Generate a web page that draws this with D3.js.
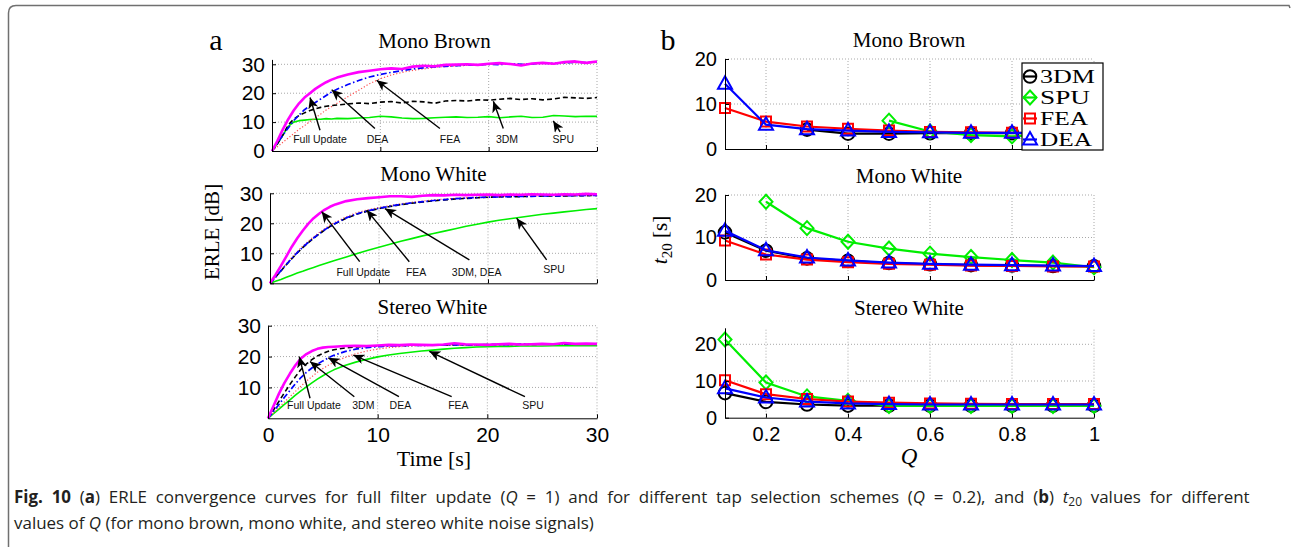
<!DOCTYPE html>
<html><head><meta charset="utf-8">
<script src="https://cdn.jsdelivr.net/npm/d3@7"></script>
<style>body{margin:0;background:#fff}svg{display:block}</style>
</head><body><svg id="c" width="1292" height="547"></svg>
<script>
// ---------- data: (a) ERLE curves ----------
const timeS = [0,0.5,1,1.5,2,2.5,3,3.5,4,4.5,5,5.5,6,7,8,9,10,11,12,13,14,15,16,17,18,19,20,21,22,23,24,25,26,27,28,29,30];
const mbFull = [0,3.5,7.5,11,14,16.5,18.5,20,21.5,22.7,23.8,24.7,25.4,26.5,27.3,27.8,28.3,28.6,28.4,29.2,29.5,29.3,29.8,29.9,30,29.8,30.2,30.4,30.1,29.6,30.3,30.5,30.2,30.8,31,30.5,31];
const mbDEA = [0,2.7,5.5,8,10.5,12.5,14.3,15.6,16.8,18,19.2,20.4,21.4,23,24.4,25.6,26.5,27.2,27.8,28.4,28.8,29.1,29.3,29.5,29.8,29.7,30,29.9,30.2,30,30.1,30.4,30.3,30.5,30.7,30.6,30.8];
const mbFEA = [0,1.5,3,4.5,6,7.5,8.8,10.2,11.5,12.8,14.2,15.4,16.5,18.8,21,23.3,25,26.3,27.2,27.9,28.4,28.9,29.2,29.4,29.6,29.8,29.9,30,30.1,30.1,30.2,30.3,30.3,30.4,30.5,30.5,30.6];
const mb3DM = [0,2.5,5.5,9,11,12.3,13.2,14,14.6,15.1,15.5,15.7,15.9,16.3,16.6,16.4,16.9,17.1,16.6,17.2,17,16.5,17.3,17.5,17.3,17.7,17.6,17.9,18.2,17.8,18.1,17.7,18,18.6,18.4,18.2,18.5];
const mbSPU = [0,2.5,5.5,8.5,10,10.5,10.7,10.9,11,11,11.2,11.1,11.3,11.2,11.4,11.6,12,11.8,11.4,11.2,11.3,11.5,11.7,11.8,11.6,11.7,11.9,11.5,11.8,12,11.6,11.7,12.3,12.1,11.9,12,12];

const mwFull = [0,2.8,5.8,9,12.2,15,17.5,19.8,21.7,23.2,24.5,25.5,26.3,27.4,28,28.4,28.7,29,29,28.8,29.2,29.4,29.3,29.5,29.4,29.5,29.6,29.4,29.6,29.5,29.7,29.6,29.5,29.7,29.6,29.8,29.7];
const mwDEA = [0,2,4.2,6.3,8.3,10.2,12,13.6,15.1,16.5,17.8,19,20,21.8,23.2,24.2,25,25.7,26.3,26.8,27.2,27.6,27.9,28.2,28.4,28.6,28.7,28.8,28.9,29,29,29.1,29.1,29.2,29.2,29.3,29.3];
const mwFEA = [0,2.1,4.3,6.5,8.6,10.6,12.4,14,15.5,16.9,18.2,19.4,20.4,22.2,23.6,24.5,25.3,25.9,26.5,27,27.4,27.8,28.1,28.3,28.5,28.7,28.8,28.9,29,29,29.1,29.1,29.2,29.2,29.3,29.3,29.4];
const mw3DM = [0,2,4.1,6.2,8.2,10.1,11.9,13.5,15,16.4,17.7,18.9,19.9,21.7,23.1,24.1,24.9,25.6,26.2,26.7,27.1,27.5,27.8,28.1,28.3,28.5,28.7,28.8,28.9,28.9,29,29.1,29.1,29.1,29.2,29.2,29.3];
const mwSPU = [0,0.65,1.3,2,2.7,3.4,4,4.7,5.3,5.9,6.5,7.1,7.7,8.8,9.9,11,12,13,14,14.9,15.8,16.6,17.4,18.2,19,19.7,20.4,21,21.5,22,22.5,23,23.4,23.8,24.2,24.6,24.9];

const swFull = [0,4,8,11.5,14.5,17.2,19.4,20.8,21.8,22.5,22.9,23.1,23.2,23.4,23.5,23.4,23.6,23.8,23.7,23.9,23.8,23.7,23.9,24.3,24,23.9,23.8,24,24.1,23.9,24,24.1,24,24.4,24.1,24.2,24.1];
const swDEA = [0,2.2,4.5,6.8,9,11.2,13.2,14.9,16.3,17.5,18.6,19.6,20.4,21.6,22.4,22.9,23.2,23.4,23.5,23.6,23.6,23.7,23.7,23.8,23.8,23.8,23.9,23.9,23.9,24,24,24,24,24.1,24,24.1,24];
const swFEA = [0,1.7,3.5,5.3,7,8.7,10.4,12,13.5,14.9,16.1,17.2,18.1,19.7,20.9,21.8,22.4,22.9,23.2,23.4,23.5,23.6,23.6,23.7,23.7,23.8,23.8,23.8,23.9,23.9,23.9,24,23.9,24,24,24,24];
const sw3DM = [0,2.7,5.5,8.3,11,13.5,15.8,17.6,19,20.2,21,21.7,22.2,22.8,23.1,23.3,23.4,23.6,23.6,23.7,23.7,23.8,23.7,23.9,23.8,23.8,23.9,23.9,23.9,24,23.9,24,24,24.1,24,24,24];
const swSPU = [0,1.5,3,4.5,6,7.5,8.9,10.2,11.5,12.7,13.8,14.8,15.7,17.1,18.2,19.1,19.9,20.5,21,21.4,21.8,22.1,22.4,22.7,22.9,23.1,23.2,23.3,23.3,23.4,23.4,23.4,23.5,23.5,23.5,23.5,23.5];

// ---------- data: (b) t20 values ----------
const qValues = [0.1,0.2,0.3,0.4,0.5,0.6,0.7,0.8,0.9,1.0];
const mbT3DM = [null,null,4.3,3.4,3.4,3.5,3.5,3.5,3.5,3.5];
const mbTSPU = [null,null,null,null,6.3,3.9,3.1,2.8,3.2,3.5];
const mbTFEA = [9.1,6.1,5.0,4.5,4.1,3.8,3.7,3.6,3.5,3.5];
const mbTDEA = [14.5,5.4,4.4,4.1,3.8,3.7,3.6,3.6,3.5,3.5];
const mwT3DM = [11.2,6.9,5.1,4.5,4.0,3.7,3.5,3.4,3.3,3.2];
const mwTSPU = [null,18.4,12.2,9.0,7.4,6.2,5.4,4.7,4.1,3.0];
const mwTFEA = [9.3,6.0,4.8,4.2,3.8,3.6,3.4,3.3,3.2,3.2];
const mwTDEA = [11.6,7.0,5.3,4.6,4.1,3.8,3.6,3.5,3.4,3.3];
const swT3DM = [6.7,4.3,3.6,3.3,3.3,3.3,3.3,3.3,3.3,3.3];
const swTSPU = [21.3,9.6,5.8,4.6,3.2,3.2,3.2,3.2,3.2,3.2];
const swTFEA = [10.2,6.4,5.1,4.4,4.1,3.9,3.8,3.7,3.7,3.7];
const swTDEA = [8.0,5.5,4.4,3.9,3.7,3.6,3.6,3.6,3.6,3.6];

// ---------- labels ----------
const panelTitles = ["Mono Brown","Mono White","Stereo White"];
const schemeNames = ["3DM","SPU","FEA","DEA"];
const timeTicks = [0,10,20,30];
const qTicks = [0.2,0.4,0.6,0.8,1];
// annotations: [label, labelT, labelY, fromT, fromY, tipT, tipY]
const annMB = [["Full Update",4.43,2.9,4.43,7.2,3.51,18.5],["DEA",9.74,2.9,9.5,7.8,5.51,21.2],["FEA",16.43,2.9,15.5,7.8,9.66,24.5],["3DM",21.69,2.9,21.35,7.8,20.43,17.2],["SPU",26.89,2.9,26.6,6.6,25.96,10.4]];
const annMW = [["Full Update",8.56,2.4,8.23,7.2,4.74,23.9],["FEA",13.41,2.4,12.78,7.2,8.87,24.4],["3DM, DEA",18.96,2.4,18.29,7.8,10.55,24.9],["SPU",26.07,3.3,25.38,7.8,22.63,21.7]];
const annSW = [["Full Update",4.19,2.9,3.83,6.5,2.85,20.0],["3DM",8.69,2.9,7.87,7.0,3.83,18.4],["DEA",12.07,2.9,11.94,7.0,5.5,19.6],["FEA",17.36,2.9,16.75,7.0,7.78,20.5],["SPU",24.16,2.9,23.43,7.0,14.71,21.7]];

const SERIF = "'Liberation Serif','Times New Roman',serif";
const SANS = "'Liberation Sans',Arial,sans-serif";
const svg = d3.select("#c");

svg.append("path").attr("d","M8.5,547 L8.5,13 Q8.5,5.5 16,5.5 L1289,5.5 L1290,8")
  .attr("fill","none").attr("stroke","#707070").attr("stroke-width",1.5);

const defs = svg.append("defs");
defs.append("marker").attr("id","ah").attr("markerUnits","userSpaceOnUse")
  .attr("markerWidth",14).attr("markerHeight",12).attr("refX",11).attr("refY",5).attr("orient","auto")
  .append("path").attr("d","M0,0 L11,5 L0,10 L3,5 Z").attr("fill","#000");

function styleAxis(s, fs){
  s.select(".domain").attr("stroke","#000").attr("stroke-width",1);
  s.selectAll(".tick line").attr("stroke","#000");
  s.selectAll(".tick text").attr("font-family",SANS).attr("font-size",fs).attr("fill","#000");
}
function grid(g, x, y, xt, yt){
  const yTop = y.range()[1], yBot = y.range()[0], xl = x.range()[0], xr = x.range()[1];
  g.append("g").selectAll("line").data(xt).join("line")
    .attr("x1",d=>x(d)).attr("x2",d=>x(d)).attr("y1",yBot).attr("y2",yTop)
    .attr("stroke","#a8a8a8").attr("stroke-dasharray","1,2");
  g.append("g").selectAll("line").data(yt).join("line")
    .attr("x1",xl).attr("x2",xr).attr("y1",d=>y(d)).attr("y2",d=>y(d))
    .attr("stroke","#a8a8a8").attr("stroke-dasharray","1,2");
}

// ---------- (a) panels ----------
const leftCfg = [
  {title:panelTitles[0], xl:272, xr:597, yb:151, yt:59.4, ymax:31.7, yticks:[0,10,20,30], xlab:false, tb:47.5,
   series:{SPU:mbSPU,FEA:mbFEA,DM:mb3DM,DEA:mbDEA,Full:mbFull}, ann:annMB},
  {title:panelTitles[1], xl:270, xr:597, yb:283.3, yt:193.3, ymax:30, yticks:[0,10,20,30], xlab:false, tb:181,
   series:{SPU:mwSPU,FEA:mwFEA,DM:mw3DM,DEA:mwDEA,Full:mwFull}, ann:annMW},
  {title:panelTitles[2], xl:268, xr:597, yb:418.3, yt:325.7, ymax:30, yticks:[10,20,30], xlab:true, tb:314,
   series:{SPU:swSPU,FEA:swFEA,DM:sw3DM,DEA:swDEA,Full:swFull}, ann:annSW}
];
const styleA = {
  SPU:{c:"#00ee00",w:1.6,d:null},
  FEA:{c:"#ff5050",w:1.2,d:"1.2,2"},
  DM:{c:"#000",w:1.6,d:"5,3"},
  DEA:{c:"#0000ff",w:1.7,d:"6,2.5,1.5,2.5"},
  Full:{c:"#ff00ff",w:2.6,d:null}
};
leftCfg.forEach(cfg=>{
  const x = d3.scaleLinear().domain([0,30]).range([cfg.xl,cfg.xr]);
  const y = d3.scaleLinear().domain([0,cfg.ymax]).range([cfg.yb,cfg.yt]);
  const g = svg.append("g");
  grid(g, x, y, timeTicks.slice(1), cfg.yticks.filter(v=>v>0));
  const line = d3.line().x((d,i)=>x(timeS[i])).y(d=>y(d));
  Object.keys(cfg.series).forEach(k=>{
    const st = styleA[k];
    g.append("path").attr("d",line(cfg.series[k])).attr("fill","none")
      .attr("stroke",st.c).attr("stroke-width",st.w).attr("stroke-linejoin","round")
      .attr("stroke-dasharray",st.d);
  });
  g.append("g").attr("transform",`translate(0,${cfg.yb})`)
    .call(d3.axisBottom(x).tickValues(timeTicks).tickSize(-4).tickSizeOuter(0).tickPadding(9)
      .tickFormat(cfg.xlab? d3.format("d") : ""))
    .call(s=>styleAxis(s,21));
  g.append("g").attr("transform",`translate(${cfg.xl},0)`)
    .call(d3.axisLeft(y).tickValues(cfg.yticks).tickSize(-4).tickSizeOuter(0).tickPadding(7).tickFormat(d3.format("d")))
    .call(s=>styleAxis(s,21));
  g.append("text").attr("x",(cfg.xl+cfg.xr)/2).attr("y",cfg.tb).attr("text-anchor","middle")
    .attr("font-family",SERIF).attr("font-size",21).text(cfg.title);
  cfg.ann.forEach(a=>{
    g.append("line").attr("x1",x(a[3])).attr("y1",y(a[4])).attr("x2",x(a[5])).attr("y2",y(a[6]))
      .attr("stroke","#000").attr("stroke-width",1.4).attr("marker-end","url(#ah)");
    g.append("text").attr("x",x(a[1])).attr("y",y(a[2])).attr("text-anchor","middle")
      .attr("font-family",SANS).attr("font-size",10.5).attr("fill","#111").text(a[0]);
  });
});
svg.append("text").attr("transform","translate(219,232) rotate(-90)").attr("text-anchor","middle")
  .attr("font-family",SERIF).attr("font-size",21).text("ERLE [dB]");
svg.append("text").attr("x",434).attr("y",466).attr("text-anchor","middle")
  .attr("font-family",SERIF).attr("font-size",22).text("Time [s]");
svg.append("text").attr("x",216).attr("y",50).attr("text-anchor","middle")
  .attr("font-family",SERIF).attr("font-size",30).text("a");

// ---------- (b) panels ----------
const rightCfg = [
  {title:panelTitles[0], yb:149, yt:59, ymax:20, xlab:false, tb:47, data:[mbT3DM,mbTSPU,mbTFEA,mbTDEA], legend:true},
  {title:panelTitles[1], yb:280, yt:195, ymax:20, xlab:false, tb:183, data:[mwT3DM,mwTSPU,mwTFEA,mwTDEA], legend:false},
  {title:panelTitles[2], yb:417.7, yt:327.8, ymax:24.5, xlab:true, tb:315, data:[swT3DM,swTSPU,swTFEA,swTDEA], legend:false}
];
const colB = ["#000000","#00ee00","#ff0000","#0000ff"];
const markerShape = ["circle","diamond","square","triangle"];
function drawMarker(g, shape, cx, cy, color){
  let p;
  if(shape==="circle"){
    return g.append("circle").attr("cx",cx).attr("cy",cy).attr("r",6.3).attr("fill","none").attr("stroke",color).attr("stroke-width",2);
  } else if(shape==="diamond"){
    p = `M${cx},${cy-7} L${cx+6.5},${cy} L${cx},${cy+7} L${cx-6.5},${cy} Z`;
  } else if(shape==="square"){
    p = `M${cx-5},${cy-5} H${cx+5} V${cy+5} H${cx-5} Z`;
  } else {
    p = `M${cx},${cy-7.5} L${cx+7},${cy+5} L${cx-7},${cy+5} Z`;
  }
  return g.append("path").attr("d",p).attr("fill","none").attr("stroke",color).attr("stroke-width",2).attr("stroke-linejoin","miter");
}
const legendWidths = [55,50,48,52];
rightCfg.forEach(cfg=>{
  const x = d3.scaleLinear().domain([0.1,1.0]).range([725,1094]);
  const y = d3.scaleLinear().domain([0,cfg.ymax]).range([cfg.yb,cfg.yt]);
  const g = svg.append("g");
  grid(g, x, y, qTicks, [10,20]);
  cfg.data.forEach((arr,si)=>{
    const line2 = d3.line().defined(d=>d[1]!=null).x(d=>x(d[0])).y(d=>y(d[1]));
    const pts = qValues.map((q,i)=>[q,arr[i]]);
    g.append("path").attr("d",line2(pts)).attr("fill","none").attr("stroke",colB[si]).attr("stroke-width",2.2);
    pts.filter(d=>d[1]!=null).forEach(d=>drawMarker(g, markerShape[si], x(d[0]), y(d[1]), colB[si]));
  });
  g.append("g").attr("transform",`translate(0,${cfg.yb})`)
    .call(d3.axisBottom(x).tickValues(qTicks).tickSize(-4).tickSizeOuter(0).tickPadding(9)
      .tickFormat(cfg.xlab? (d=>d===1?"1":d3.format(".1f")(d)) : ""))
    .call(s=>styleAxis(s,20));
  g.append("g").attr("transform",`translate(725,0)`)
    .call(d3.axisLeft(y).tickValues([0,10,20]).tickSize(-4).tickSizeOuter(0).tickPadding(8).tickFormat(d3.format("d")))
    .call(s=>styleAxis(s,20));
  g.append("text").attr("x",909).attr("y",cfg.tb).attr("text-anchor","middle")
    .attr("font-family",SERIF).attr("font-size",21).text(cfg.title);
  if(cfg.legend){
    const lg = g.append("g");
    lg.append("rect").attr("x",1022).attr("y",63).attr("width",81).attr("height",87)
      .attr("fill","#fff").attr("stroke","#000").attr("stroke-width",1.2);
    schemeNames.forEach((nm,i)=>{
      const cy = 76.5 + i*21;
      lg.append("line").attr("x1",1023).attr("x2",1037).attr("y1",cy).attr("y2",cy).attr("stroke",colB[i]).attr("stroke-width",2.2);
      drawMarker(lg, markerShape[i], 1030, cy, colB[i]);
      lg.append("text").attr("x",1040).attr("y",cy+6.5).attr("font-family",SERIF).attr("font-size",18)
        .attr("textLength",legendWidths[i]).attr("lengthAdjust","spacingAndGlyphs").text(nm);
    });
  }
});
const t20 = svg.append("text").attr("transform","translate(667,240) rotate(-90)").attr("text-anchor","middle")
  .attr("font-family",SERIF).attr("font-size",21);
t20.append("tspan").attr("font-style","italic").text("t");
t20.append("tspan").attr("font-size",15).attr("dy",5).text("20");
t20.append("tspan").attr("dy",-5).text(" [s]");
svg.append("text").attr("x",909).attr("y",464).attr("text-anchor","middle")
  .attr("font-family",SERIF).attr("font-size",23).attr("font-style","italic").text("Q");
svg.append("text").attr("x",668).attr("y",50).attr("text-anchor","middle")
  .attr("font-family",SERIF).attr("font-size",30).text("b");

// ---------- caption (justified first line) ----------
const CAP = "'Open Sans','Noto Sans',sans-serif";
function capLine(parts){
  const t = svg.append("text").attr("y",0).attr("font-family",CAP).attr("font-size",17).attr("fill","#231f20");
  parts.forEach(p=>{
    const s = t.append("tspan").text(p[0]);
    if(p[1]==="b") s.attr("font-weight","bold");
    if(p[1]==="i") s.attr("font-style","italic");
    if(p[1]==="sub") s.attr("font-size",12).attr("dy",3);
    if(p[1]==="after") s.attr("dy",-3);
  });
  return t;
}
const cap1Parts = [["Fig. 10","b"],[" ("],["a","b"],[") ERLE convergence curves for full filter update ("],["Q","i"],[" = 1) and for different tap selection schemes ("],["Q","i"],[" = 0.2), and ("],["b","b"],[") "],["t","i"],["20","sub"],[" values for different","after"]];
const cap1 = capLine(cap1Parts);
const cap2 = capLine([["values of "],["Q","i"],[" (for mono brown, mono white, and stereo white noise signals)"]]);
const kx = 580 / cap2.node().getComputedTextLength();
const nSpaces = cap1Parts.map(p=>p[0]).join("").split(" ").length - 1;
const extra = (1236 / kx - cap1.node().getComputedTextLength()) / nSpaces;
cap1.attr("word-spacing", Math.max(0, extra));
cap1.attr("transform",`translate(14,503) scale(${kx},1)`);
cap2.attr("transform",`translate(14,529) scale(${kx},1)`);
</script></body></html>
